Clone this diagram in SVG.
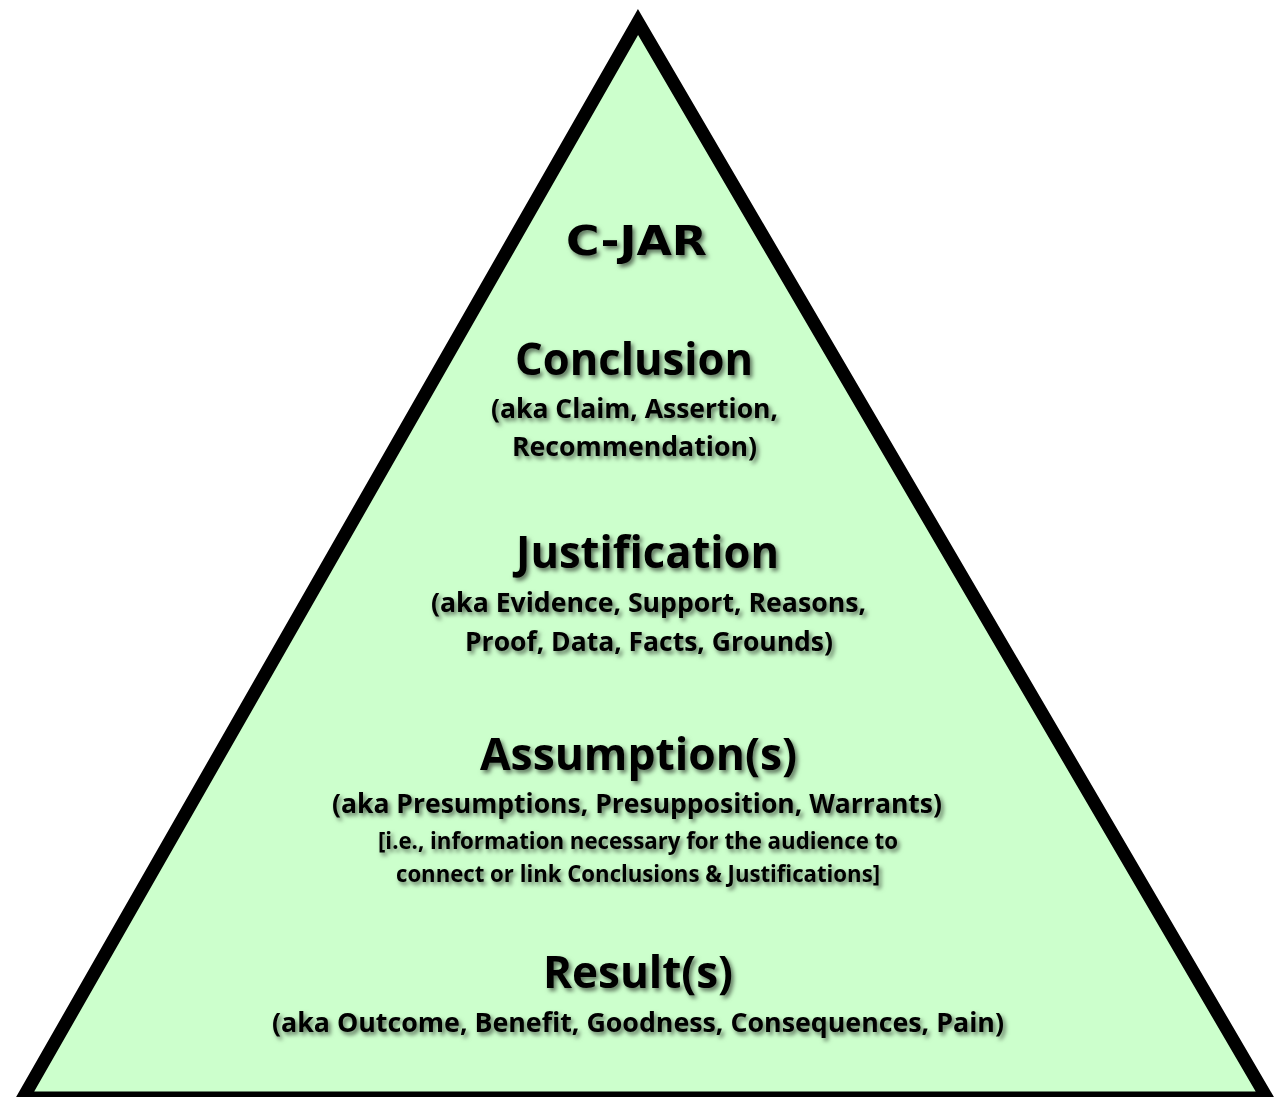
<svg xmlns="http://www.w3.org/2000/svg" width="1284" height="1097" viewBox="0 0 1284 1097">
  <defs>
    <filter id="shadow" x="-10%" y="-30%" width="120%" height="170%">
      <feDropShadow dx="2.5" dy="3" stdDeviation="2" flood-color="#000" flood-opacity="0.55"/>
    </filter>
    <style>
      .pyramid { fill: #ccffcc; stroke: #000; stroke-width: 13; stroke-linejoin: miter; stroke-miterlimit: 10; }
      text { fill: #000; text-anchor: middle; font-weight: 700; filter: url(#shadow); }
      .logo { font-family: "DejaVu Sans", Verdana, sans-serif; font-size: 40px; }
      .head { font-family: "Open Sans", "Noto Sans", sans-serif; font-size: 45px; }
      .sub { font-family: "Open Sans", "Noto Sans", sans-serif; font-size: 26px; }
      .note { font-family: "Open Sans", "Noto Sans", sans-serif; font-size: 23px; }
    </style>
  </defs>
  <rect width="1284" height="1097" fill="#fff"/>

  <g id="pyramid">
    <polygon class="pyramid" points="638,22 1267,1098 23,1098"/>
  </g>

  <g id="connectors"/>

  <g id="title">
    <text class="logo" x="636.5" y="255" textLength="141" lengthAdjust="spacingAndGlyphs">C-JAR</text>
  </g>

  <g id="conclusion">
    <text class="head" x="634" y="375" textLength="238" lengthAdjust="spacingAndGlyphs">Conclusion</text>
    <text class="sub" x="634.5" y="418" textLength="287" lengthAdjust="spacingAndGlyphs">(aka Claim, Assertion,</text>
    <text class="sub" x="634.5" y="456" textLength="245" lengthAdjust="spacingAndGlyphs">Recommendation)</text>
  </g>

  <g id="justification">
    <text class="head" x="647.5" y="568" textLength="263" lengthAdjust="spacingAndGlyphs">Justification</text>
    <text class="sub" x="648.5" y="612" textLength="435" lengthAdjust="spacingAndGlyphs">(aka Evidence, Support, Reasons,</text>
    <text class="sub" x="649" y="651" textLength="368" lengthAdjust="spacingAndGlyphs">Proof, Data, Facts, Grounds)</text>
  </g>

  <g id="assumptions">
    <text class="head" x="638.5" y="770" textLength="317" lengthAdjust="spacingAndGlyphs">Assumption(s)</text>
    <text class="sub" x="637" y="813" textLength="610" lengthAdjust="spacingAndGlyphs">(aka Presumptions, Presupposition, Warrants)</text>
    <text class="note" x="638" y="849" textLength="520" lengthAdjust="spacingAndGlyphs">[i.e., information necessary for the audience to</text>
    <text class="note" x="638" y="882" textLength="484" lengthAdjust="spacingAndGlyphs">connect or link Conclusions &amp; Justifications]</text>
  </g>

  <g id="results">
    <text class="head" x="638" y="988" textLength="190" lengthAdjust="spacingAndGlyphs">Result(s)</text>
    <text class="sub" x="638" y="1032" textLength="732" lengthAdjust="spacingAndGlyphs">(aka Outcome, Benefit, Goodness, Consequences, Pain)</text>
  </g>
</svg>
